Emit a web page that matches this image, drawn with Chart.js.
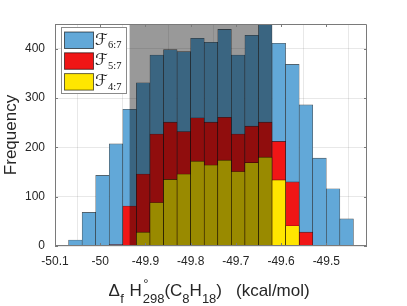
<!DOCTYPE html>
<html><head><meta charset="utf-8">
<script src="https://cdn.jsdelivr.net/npm/chart.js@4/dist/chart.umd.min.js"></script>
<style>html,body{margin:0;padding:0;background:#fff;} #wrap{width:407px;height:306px;position:relative;}</style>
</head><body><div id="wrap"><canvas id="c" width="407" height="306"></canvas></div>
<script>
const binCenters = [-50.055, -50.025, -49.995, -49.965, -49.935, -49.905, -49.875, -49.845, -49.815, -49.785, -49.755, -49.725, -49.695, -49.665, -49.635, -49.605, -49.575, -49.545, -49.515, -49.485, -49.455];
const seriesF67 = [12, 68, 143, 207, 277, 331, 387, 398, 394, 421, 413, 439, 387, 427, 470, 411, 368, 286, 178, 116, 55];
const seriesF57 = [0, 0, 0, 3, 81, 146, 227, 251, 232, 260, 251, 261, 227, 243, 251, 212, 130, 28, 0, 0, 0];
const seriesF47 = [0, 0, 0, 0, 0, 28, 88, 135, 146, 172, 164, 174, 151, 169, 180, 134, 41, 0, 0, 0, 0];
const seriesNames = ['6:7', '5:7', '4:7'];
const seriesColors = ['#62A8D8', '#F01616', '#FFE600'];
const xTickValues = [-50.1, -50, -49.9, -49.8, -49.7, -49.6, -49.5];
const xTickLabels = ['-50.1', '-50', '-49.9', '-49.8', '-49.7', '-49.6', '-49.5'];
const yTickValues = [0, 100, 200, 300, 400];
const yTickLabels = ['0', '100', '200', '300', '400'];
const shadedRange = [-49.935, -49.62];

const TXT = '#262626';
const SANS = "'Liberation Sans', Arial, Helvetica, sans-serif";

function pts(series){ return binCenters.map((x,i)=>({x:x, y:series[i]})); }

const allSeries = [seriesF67, seriesF57, seriesF47];
const datasets = allSeries.map((s,k)=>({
  label: 'F' + seriesNames[k],
  data: pts(s),
  backgroundColor: seriesColors[k],
  borderColor: 'rgba(0,0,0,0.7)',
  borderWidth: 0.6,
  borderSkipped: 'start',
  grouped: false,
  barPercentage: 1,
  categoryPercentage: 1,
  clip: 0,
  order: 3 - k
}));

const shadePlugin = {
  id: 'shade',
  beforeDatasetsDraw(chart){
    const {ctx, chartArea:a} = chart;
    ctx.save();
    ctx.beginPath();
    ctx.rect(a.left, a.top, a.right - a.left, a.bottom - a.top);
    ctx.clip();
  },
  afterDatasetsDraw(chart){
    const {ctx, chartArea:a, scales:{x}} = chart;
    ctx.restore();
    const x1 = x.getPixelForValue(shadedRange[0]);
    const x2 = x.getPixelForValue(shadedRange[1]);
    ctx.save();
    ctx.fillStyle = 'rgba(0,0,0,0.4)';
    ctx.fillRect(x1, a.top, x2 - x1, a.bottom - a.top);
    ctx.restore();
  }
};

const framePlugin = {
  id: 'frame',
  afterDraw(chart){
    const {ctx, chartArea:a, scales:{x, y}} = chart;
    ctx.save();
    ctx.strokeStyle = '#7a7a7a';
    ctx.lineWidth = 1;
    ctx.beginPath();
    ctx.moveTo(a.left + 0.5, a.top + 0.5); ctx.lineTo(a.right - 0.5, a.top + 0.5);
    ctx.lineTo(a.right - 0.5, a.bottom - 0.5);
    ctx.moveTo(a.left + 0.5, a.top + 0.5); ctx.lineTo(a.left + 0.5, a.bottom);
    ctx.moveTo(a.left, a.bottom - 0.5); ctx.lineTo(a.right, a.bottom - 0.5);
    xTickValues.forEach(v=>{
      const px = Math.round(x.getPixelForValue(v)) + 0.5;
      ctx.moveTo(px, a.bottom); ctx.lineTo(px, a.bottom - 3);
      ctx.moveTo(px, a.top); ctx.lineTo(px, a.top + 3);
    });
    yTickValues.forEach(v=>{
      const py = Math.round(y.getPixelForValue(v)) + 0.5;
      ctx.moveTo(a.left, py); ctx.lineTo(a.left + 3, py);
      ctx.moveTo(a.right, py); ctx.lineTo(a.right - 3, py);
    });
    ctx.stroke();

    // legend
    const lx = a.left + 6, ly = a.top + 3, lw = 66, lh = 67;
    ctx.fillStyle = '#fff';
    ctx.fillRect(lx, ly, lw, lh);
    ctx.strokeStyle = '#8a8a8a';
    ctx.strokeRect(lx + 0.5, ly + 0.5, lw - 1, lh - 1);
    for (let k = 0; k < 3; k++) {
      const sy = ly + 5 + k * 20.8;
      ctx.fillStyle = seriesColors[k];
      ctx.fillRect(lx + 3.5, sy, 29, 16.5);
      ctx.strokeStyle = 'rgba(0,0,0,0.6)';
      ctx.strokeRect(lx + 3.5, sy, 29, 16.5);
      ctx.fillStyle = '#111';
      ctx.textAlign = 'left';
      ctx.textBaseline = 'alphabetic';
      ctx.font = "16px 'DejaVu Sans', 'DejaVu Serif', serif";
      ctx.fillText('\u2131', lx + 34, sy + 12.5);
      const fw = ctx.measureText('\u2131').width;
      ctx.font = "10.5px 'Liberation Serif', 'DejaVu Serif', serif";
      ctx.fillText(seriesNames[k], lx + 34 + fw + 0.5, sy + 16);
    }

    // x axis title with sub/superscripts
    ctx.fillStyle = TXT;
    ctx.textAlign = 'left';
    ctx.textBaseline = 'alphabetic';
    const base = a.bottom + 50;
    let cx = a.left + 53.5;
    const runs = [
      {t:'\u0394', s:17, dy:0},
      {t:'f', s:13, dy:7, gap:0.5},
      {t:'H', s:17, dy:0, gap:5.5},
      {t:'298', s:13, dy:7, sup:'\u00B0', gap:1},
      {t:'(C', s:17, dy:0},
      {t:'8', s:13, dy:7},
      {t:'H', s:17, dy:0},
      {t:'18', s:13, dy:7},
      {t:')', s:17, dy:0},
      {t:'(kcal/mol)', s:17, dy:0, gap:14}
    ];
    runs.forEach(r=>{
      if (r.gap) cx += r.gap;
      ctx.font = r.s + 'px ' + SANS;
      ctx.fillText(r.t, cx, base + r.dy);
      if (r.sup) ctx.fillText(r.sup, cx + 0.5, base - 8);
      cx += ctx.measureText(r.t).width;
    });
    ctx.restore();
  }
};

new Chart(document.getElementById('c'), {
  type: 'bar',
  data: { datasets: datasets },
  options: {
    responsive: false,
    animation: false,
    devicePixelRatio: 1,
    layout: { padding: { top: 24, right: 40, left: 0, bottom: 0 } },
    plugins: { legend: { display: false }, tooltip: { enabled: false } },
    scales: {
      x: {
        type: 'linear', min: -50.1, max: -49.41, offset: false,
        afterBuildTicks(s){ s.ticks = xTickValues.map(v=>({value:v})); },
        afterFit(s){ s.height = 60; },
        ticks: {
          color: TXT, font: { family: SANS, size: 12 }, padding: 8, maxRotation: 0,
          callback(v){ const i = xTickValues.findIndex(t=>Math.abs(t - v) < 1e-6); return i >= 0 ? xTickLabels[i] : ''; }
        },
        grid: { color: 'rgba(0,0,0,0.09)', drawTicks: false },
        border: { display: false }
      },
      y: {
        min: 0, max: 450,
        afterBuildTicks(s){ s.ticks = yTickValues.map(v=>({value:v})); },
        afterFit(s){ s.width = 55; },
        ticks: {
          color: TXT, font: { family: SANS, size: 12 }, padding: 10,
          callback(v){ const i = yTickValues.indexOf(v); return i >= 0 ? yTickLabels[i] : ''; }
        },
        grid: { color: 'rgba(0,0,0,0.09)', drawTicks: false },
        border: { display: false },
        title: { display: true, text: 'Frequency', color: TXT, font: { family: SANS, size: 17, weight: 'normal' }, padding: { top: 1, bottom: 0 } }
      }
    }
  },
  plugins: [shadePlugin, framePlugin]
});
</script>
</body></html>
